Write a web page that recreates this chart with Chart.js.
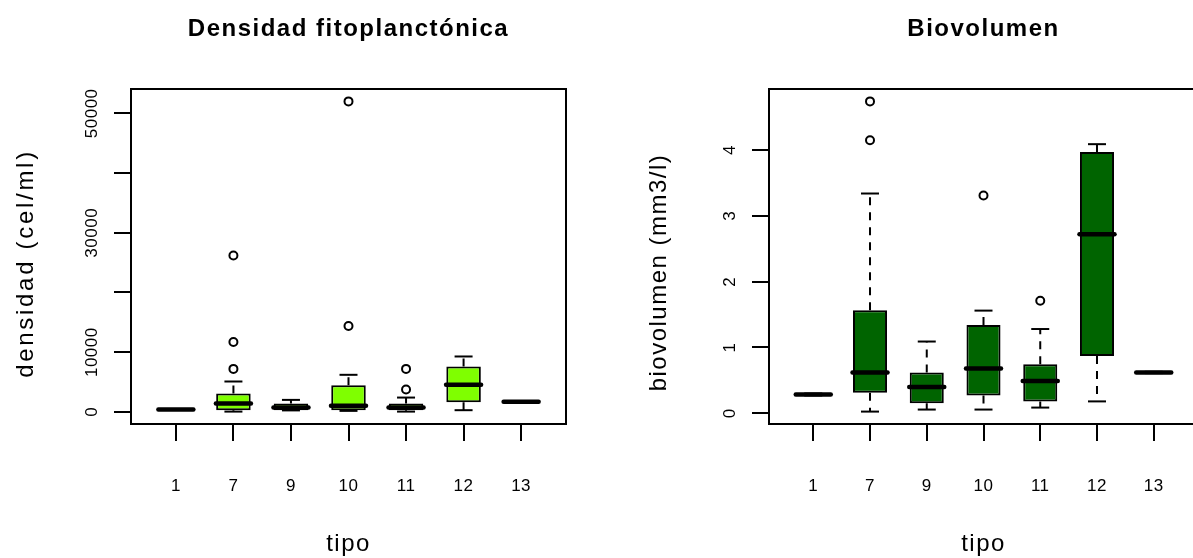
<!DOCTYPE html>
<html>
<head>
<meta charset="utf-8">
<script src="https://cdn.jsdelivr.net/npm/chart.js@4.4.1/dist/chart.umd.min.js"></script>
<style>
html, body { margin: 0; padding: 0; background: #fff; overflow: hidden; }
#wrap { position: relative; width: 1193px; height: 558px; overflow: hidden; }
canvas { position: absolute; top: 0; }
#chartDensidad { left: 0; }
#chartBiovolumen { left: 600px; }
</style>
</head>
<body>
<div id="wrap">
  <canvas id="chartDensidad" width="600" height="558"></canvas>
  <canvas id="chartBiovolumen" width="620" height="558"></canvas>
</div>
<script>
// categorías (tipo)
const tipos = ['1', '7', '9', '10', '11', '12', '13'];

// Densidad fitoplanctónica (cel/ml)
const densBigoteInf = [360, 50, 250, 170, 50, 285, 1670];
const densQ1 = [380, 285, 285, 285, 285, 1630, 1680];
const densMediana = [400, 1390, 720, 1010, 720, 4530, 1680];
const densQ3 = [420, 3070, 1390, 4480, 1390, 7600, 1680];
const densBigoteSup = [440, 5090, 2010, 6210, 2400, 9280, 1690];
const densAtipicos = [[], [7200, 11700, 26200], [], [14400, 52000], [3740, 7200], [], []];
const densTicks = [0, 10000, 20000, 30000, 40000, 50000];
const densTickLabels = ['0', '10000', '', '30000', '', '50000'];

// Biovolumen (mm3/l)
const bioBigoteInf = [0.27, 0.025, 0.056, 0.056, 0.086, 0.18, 0.61];
const bioQ1 = [0.28, 0.31, 0.15, 0.27, 0.18, 0.87, 0.62];
const bioMediana = [0.285, 0.62, 0.40, 0.68, 0.49, 2.72, 0.62];
const bioQ3 = [0.29, 1.565, 0.62, 1.34, 0.745, 3.97, 0.625];
const bioBigoteSup = [0.30, 3.34, 1.09, 1.56, 1.28, 4.09, 0.63];
const bioAtipicos = [[], [4.15, 4.74], [], [3.31], [1.71], [], []];
const bioTicks = [0, 1, 2, 3, 4];
const bioTickLabels = ['0', '1', '2', '3', '4'];

const FUENTE = '"Liberation Sans", Arial, sans-serif';

// marco de la gráfica y todos los textos (estilo R)
const marcoYTextos = {
    id: 'marcoYTextos',
    beforeDatasetDraw(chart, args) {
        if (args.meta._dataset.esMediana) chart.ctx.lineCap = 'round';
    },
    afterDatasetDraw(chart, args) {
        if (args.meta._dataset.esMediana) chart.ctx.lineCap = 'butt';
    },
    afterDraw(chart, args, opts) {
        const { ctx, chartArea: a, scales } = chart;
        ctx.save();
        ctx.lineWidth = 2;
        ctx.strokeStyle = '#000';
        ctx.strokeRect(a.left, a.top, a.right - a.left, a.bottom - a.top);

        ctx.fillStyle = '#000';
        ctx.textAlign = 'center';
        ctx.textBaseline = 'alphabetic';

        // título
        ctx.font = 'bold 24px ' + FUENTE;
        ctx.letterSpacing = '1.5px';
        ctx.fillText(opts.titulo, (a.left + a.right) / 2, a.top - 53);

        // etiquetas del eje x
        ctx.font = '17px ' + FUENTE;
        ctx.letterSpacing = '0.5px';
        opts.categorias.forEach((t, i) => {
            ctx.fillText(t, scales.x.getPixelForValue(i + 1), a.bottom + 67);
        });

        // etiquetas del eje y (verticales)
        ctx.textBaseline = 'middle';
        opts.ticksY.forEach((v, i) => {
            if (!opts.etiquetasY[i]) return;
            ctx.save();
            ctx.translate(a.left - 39, scales.y.getPixelForValue(v));
            ctx.rotate(-Math.PI / 2);
            ctx.fillText(opts.etiquetasY[i], 0, 0);
            ctx.restore();
        });

        // títulos de ejes
        ctx.font = '24px ' + FUENTE;
        ctx.letterSpacing = '1.5px';
        ctx.textBaseline = 'alphabetic';
        ctx.fillText(opts.tituloX, (a.left + a.right) / 2, a.bottom + 127);

        ctx.textBaseline = 'middle';
        ctx.letterSpacing = opts.espaciadoTituloY;
        ctx.save();
        ctx.translate(a.left + opts.dxTituloY, (a.top + a.bottom) / 2 + opts.dyTituloY);
        ctx.rotate(-Math.PI / 2);
        ctx.fillText(opts.tituloY, 0, 0);
        ctx.restore();
        ctx.restore();
    }
};

function crearBoxplot(canvasId, d) {
    const n = tipos.length;
    const pos = tipos.map((t, i) => i + 1);

    // rango como en R: datos +- 4 %
    const todos = d.bigoteInf.concat(d.bigoteSup, d.atipicos.flat());
    const minY = Math.min(...todos);
    const maxY = Math.max(...todos);
    const extra = (maxY - minY) * 0.04;
    const extraX = n * 0.04;

    // bigotes discontinuos: q3 -> sup y q1 -> inf
    const bigotes = [];
    pos.forEach((x, i) => {
        bigotes.push({ x, y: d.q3[i] }, { x, y: d.bigoteSup[i] }, { x, y: null });
        bigotes.push({ x, y: d.q1[i] }, { x, y: d.bigoteInf[i] }, { x, y: null });
    });
    const topes = [];
    pos.forEach((x, i) => {
        topes.push({ x, y: d.bigoteSup[i] }, { x, y: d.bigoteInf[i] });
    });
    const atipicos = [];
    pos.forEach((x, i) => d.atipicos[i].forEach(v => atipicos.push({ x, y: v })));

    const ejeComun = {
        bounds: 'data',
        offset: false,
        border: { display: false },
        grid: { offset: false, drawOnChartArea: false, drawTicks: true, tickLength: 17, color: '#000', lineWidth: 2 },
        ticks: { display: false }
    };

    return new Chart(document.getElementById(canvasId), {
        type: 'bar',
        data: {
            datasets: [
                {
                    type: 'line',
                    data: bigotes,
                    borderColor: '#000',
                    borderWidth: 2,
                    borderDash: [8, 7],
                    pointRadius: 0,
                    spanGaps: false,
                    order: 5
                },
                {
                    type: 'bar',
                    data: pos.map((x, i) => ({ x, y: [d.q1[i], d.q3[i]] })),
                    backgroundColor: d.color,
                    borderColor: '#000',
                    borderWidth: 2,
                    borderSkipped: false,
                    categoryPercentage: 1,
                    barPercentage: 0.6,
                    order: 4
                },
                {
                    type: 'scatter',
                    data: pos.map((x, i) => ({ x, y: d.mediana[i] })),
                    esMediana: true,
                    pointStyle: 'line',
                    pointRadius: 17.5,
                    borderColor: '#000',
                    borderWidth: 4.5,
                    order: 3
                },
                {
                    type: 'scatter',
                    data: topes,
                    pointStyle: 'line',
                    pointRadius: 9,
                    borderColor: '#000',
                    borderWidth: 2,
                    order: 2
                },
                {
                    type: 'scatter',
                    data: atipicos,
                    pointStyle: 'circle',
                    pointRadius: 4,
                    backgroundColor: 'rgba(0,0,0,0)',
                    borderColor: '#000',
                    borderWidth: 2,
                    order: 1
                }
            ]
        },
        options: {
            responsive: false,
            animation: false,
            events: [],
            clip: false,
            layout: { padding: d.padding },
            scales: {
                x: {
                    ...ejeComun,
                    type: 'linear',
                    min: 0.5 - extraX,
                    max: n + 0.5 + extraX,
                    afterBuildTicks: s => { s.ticks = pos.map(v => ({ value: v })); }
                },
                y: {
                    ...ejeComun,
                    type: 'linear',
                    min: minY - extra,
                    max: maxY + extra,
                    afterBuildTicks: s => { s.ticks = d.ticksY.map(v => ({ value: v })); }
                }
            },
            plugins: {
                legend: { display: false },
                tooltip: { enabled: false },
                marcoYTextos: {
                    titulo: d.titulo,
                    tituloX: 'tipo',
                    tituloY: d.tituloY,
                    categorias: tipos,
                    ticksY: d.ticksY,
                    etiquetasY: d.etiquetasY,
                    dxTituloY: d.dxTituloY,
                    dyTituloY: d.dyTituloY,
                    espaciadoTituloY: d.espaciadoTituloY
                }
            }
        },
        plugins: [marcoYTextos]
    });
}

crearBoxplot('chartDensidad', {
    titulo: 'Densidad fitoplanctónica',
    tituloY: 'densidad (cel/ml)',
    color: '#7FFF00',
    bigoteInf: densBigoteInf, q1: densQ1, mediana: densMediana, q3: densQ3,
    bigoteSup: densBigoteSup, atipicos: densAtipicos,
    ticksY: densTicks, etiquetasY: densTickLabels,
    padding: { left: 114, top: 89, right: 34, bottom: 117 },
    dxTituloY: -104.5, dyTituloY: 7, espaciadoTituloY: '2.7px'
});

crearBoxplot('chartBiovolumen', {
    titulo: 'Biovolumen',
    tituloY: 'biovolumen (mm3/l)',
    color: '#006400',
    bigoteInf: bioBigoteInf, q1: bioQ1, mediana: bioMediana, q3: bioQ3,
    bigoteSup: bioBigoteSup, atipicos: bioAtipicos,
    ticksY: bioTicks, etiquetasY: bioTickLabels,
    padding: { left: 152, top: 89, right: 19, bottom: 117 },
    dxTituloY: -109.5, dyTituloY: 16, espaciadoTituloY: '1.5px'
});
</script>
</body>
</html>
